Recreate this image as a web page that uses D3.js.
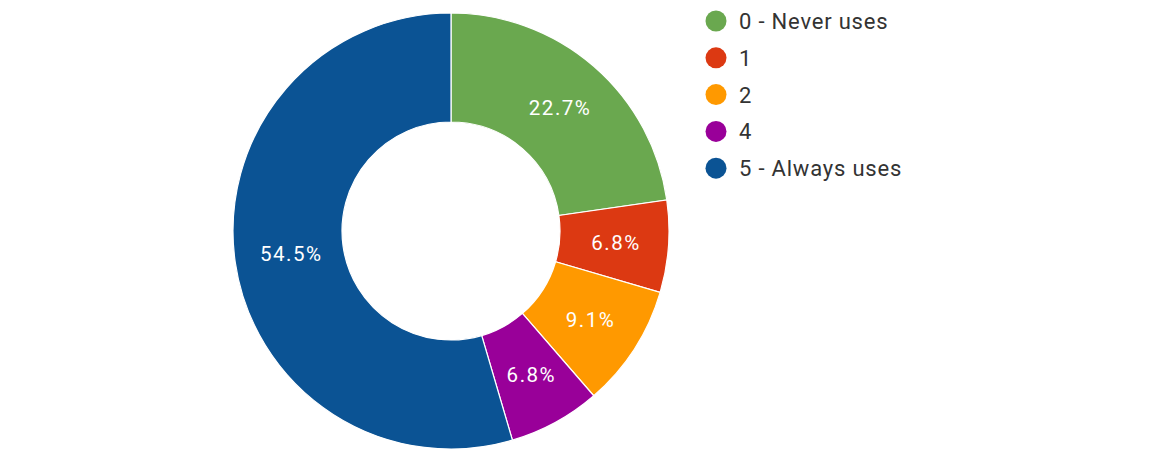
<!DOCTYPE html>
<html>
<head>
<meta charset="utf-8">
<script src="https://cdn.jsdelivr.net/npm/d3@7"></script>
<style>
  body { margin: 0; background: #fff; }
  text { font-family: Roboto, "Liberation Sans", Arial, sans-serif; }
</style>
</head>
<body>
<div id="chart"></div>
<script>
// answers and counts (44 responses)
const categories = ["0 - Never uses", "1", "2", "4", "5 - Always uses"];
const counts = [10, 3, 4, 3, 24];
const colors = ["#6aa84f", "#dc3912", "#ff9900", "#990099", "#0b5394"];

const width = 1159, height = 453;
const cx = 451, cy = 231;
const outerR = 218, innerR = 109;

const svg = d3.select('#chart')
  .append('svg')
    .attr('width', width)
    .attr('height', height);

const total = d3.sum(counts);

const pie = d3.pie()
  .sort(null)
  .value(d => d);

const arc = d3.arc()
  .innerRadius(innerR)
  .outerRadius(outerR);

const g = svg.append('g')
  .attr('transform', `translate(${cx}, ${cy})`);

const slices = g.selectAll('g.slice')
  .data(pie(counts))
  .enter()
  .append('g')
  .attr('class', 'slice');

slices.append('path')
  .attr('d', arc)
  .attr('fill', (d, i) => colors[i])
  .attr('stroke', '#fff')
  .attr('stroke-width', 1.2);

slices.append('text')
  .attr('transform', d => `translate(${arc.centroid(d)})`)
  .attr('text-anchor', 'middle')
  .attr('dx', 2) // letter-spacing pads the end, nudge back to centre
  .attr('dy', '0.35em')
  .attr('fill', '#fff')
  .style('font-size', '20.5px')
  .style('letter-spacing', '1.5px')
  .text(d => d3.format('.1f')(d.data / total * 100) + '%');

// legend
const legend = svg.append('g')
  .attr('transform', 'translate(716, 21)');

const rows = legend.selectAll('g')
  .data(categories)
  .enter()
  .append('g')
  .attr('transform', (d, i) => `translate(0, ${i * 36.8})`);

rows.append('circle')
  .attr('r', 10.5)
  .attr('fill', (d, i) => colors[i]);

rows.append('text')
  .attr('x', 23)
  .attr('dy', '0.36em')
  .attr('fill', '#333')
  .style('font-size', '22px')
  .style('letter-spacing', '0.8px')
  .text(d => d);
</script>
</body>
</html>
